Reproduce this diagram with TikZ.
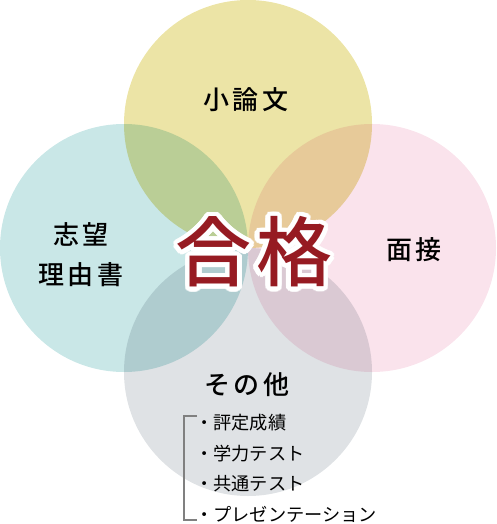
\documentclass[tikz,border=0pt]{standalone}
\usepackage{fontspec}
\setmainfont{Noto Sans CJK JP}
\newfontfamily\jpmedium{Noto Sans CJK JP Medium}
\definecolor{ronbuncol}{HTML}{ECE4A6}
\definecolor{shiboucol}{HTML}{C9E7E7}
\definecolor{mensetsucol}{HTML}{FAE3EC}
\definecolor{sonotacol}{HTML}{DFE2E5}
\definecolor{passred}{HTML}{961B22}
\begin{document}
\begin{tikzpicture}[
	x=1pt, y=-1pt,
	venn/.style={
		blend mode=multiply
	},
	fieldlabel/.style={
		font=\jpmedium\fontsize{26}{40}\selectfont\addfontfeature{LetterSpace=12},
		inner sep=0pt,
		align=center
	},
	passlabel/.style={
		font=\jpmedium\fontsize{76}{80}\selectfont\addfontfeature{LetterSpace=6},
		inner sep=0pt
	},
	itemlabel/.style={
		font=\fontsize{18.2}{20}\selectfont,
		anchor=west,
		inner sep=0pt
	},
	bracketline/.style={
		draw=black!50,
		line width=1.3pt
	}
]

\useasboundingbox (0,0) rectangle (496,524);

% the four circles
\fill[ronbuncol, venn] (248,124) circle [radius=124pt];
\fill[shiboucol, venn] (124,248) circle [radius=124pt];
\fill[mensetsucol, venn] (372,248) circle [radius=124pt];
\fill[sonotacol, venn] (248,372) circle [radius=124pt];

\node[fieldlabel] (ronbun) at (246,100) {小論文};
\node[fieldlabel] (shibou) at (81,255) {志望\\理由書};
\node[fieldlabel] (mensetsu) at (414,250) {面接};
\node[fieldlabel] (sonota) at (247,385) {その他};

% white outline round the centre word
\foreach \a in {0,15,...,345} {
	\node[passlabel, text=white] (halo\a) at ([shift={(\a:4.5pt)}]254,252) {合格};
}
\node[passlabel, text=passred] (pass) at (254,252) {合格};

\def\items{
	評定成績,
	学力テスト,
	共通テスト,
	プレゼンテーション,
}
\foreach \item [count=\i] in \items {
	\node[itemlabel] (item\i) at (195,392+\i*30.7) {・\item};
}

\coordinate (brtop) at (197,416);
\coordinate (brbot) at (197,520);
\draw[bracketline] (brtop) -- ++(-13,0) |- (brbot);

\end{tikzpicture}
\end{document}
